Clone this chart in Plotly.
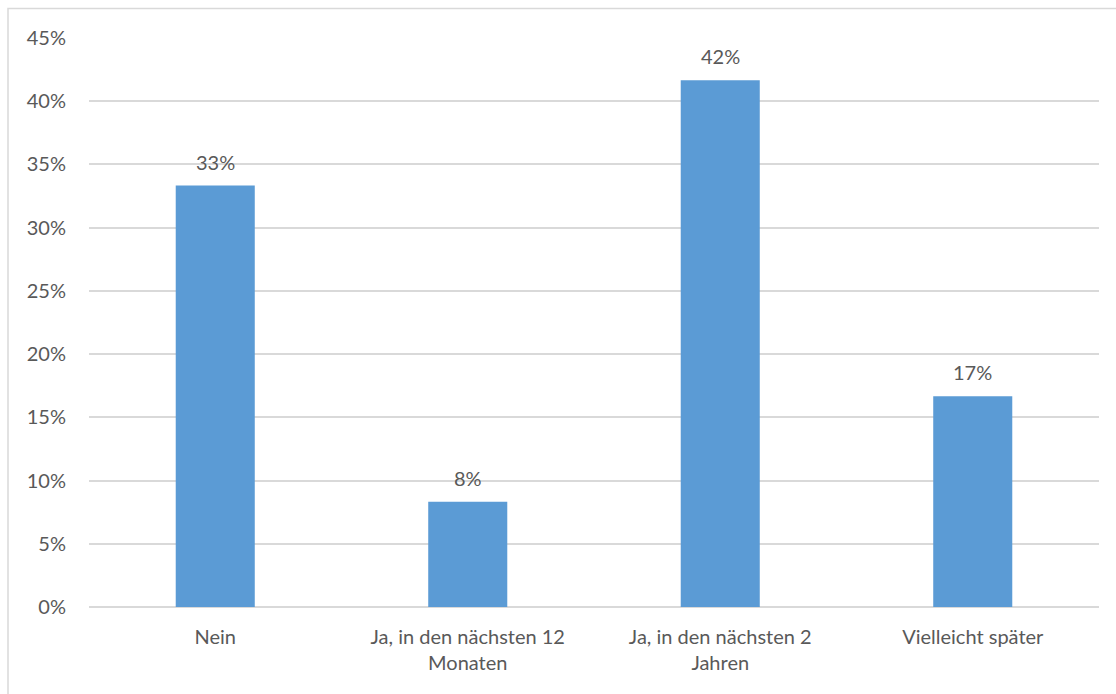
import plotly.graph_objects as go

categories = ["Nein", "Ja, in den nächsten 12<br>Monaten", "Ja, in den nächsten 2<br>Jahren", "Vielleicht später"]
shares = [4 / 12, 1 / 12, 5 / 12, 2 / 12]
y_ticks = [0, 0.05, 0.10, 0.15, 0.20, 0.25, 0.30, 0.35, 0.40, 0.45]
y_tick_labels = ["0%", "5%", "10%", "15%", "20%", "25%", "30%", "35%", "40%", "45%"]

FONT = "Lato, Open Sans, sans-serif"
FS = 20
TEXT = "#595959"
GRID = "#d9d9d9"

W, H = 1116, 694
M_L, M_R, M_T, M_B = 89, 17, 38, 87
plot_w = W - M_L - M_R
plot_h = H - M_T - M_B

fig = go.Figure(
    go.Bar(
        x=categories,
        y=shares,
        marker=dict(color="#5b9bd5", line=dict(width=0)),
        width=0.313,
        hoverinfo="skip",
    )
)

# value labels above each bar
for cat, v in zip(categories, shares):
    fig.add_annotation(
        x=cat, y=v, text=f"{round(v * 100):.0f}%", showarrow=False,
        yanchor="bottom", yshift=10,
        font=dict(family=FONT, size=FS, color=TEXT),
    )

# light chart frame
def px_x(p):
    return (p - M_L) / plot_w

def px_y(p):
    return (H - M_B - p) / plot_h

fig.add_shape(
    type="rect", xref="paper", yref="paper",
    x0=px_x(8), x1=px_x(1125), y0=px_y(705), y1=px_y(8.5),
    line=dict(color=GRID, width=1.5), fillcolor="rgba(0,0,0,0)", layer="below",
)

fig.update_layout(
    width=W, height=H,
    margin=dict(l=M_L, r=M_R, t=M_T, b=M_B),
    paper_bgcolor="white", plot_bgcolor="white",
    showlegend=False,
    font=dict(family=FONT, size=FS, color=TEXT),
    bargap=0.687,
    xaxis=dict(
        showgrid=False, showline=False, ticks="",
        tickfont=dict(family=FONT, size=FS, color=TEXT),
        ticklabelstandoff=16,
    ),
    yaxis=dict(
        range=[0, 0.45], tickvals=y_ticks, ticktext=y_tick_labels,
        showgrid=True, gridcolor=GRID, gridwidth=1.5,
        zeroline=True, zerolinecolor=GRID, zerolinewidth=1.5,
        showline=False, ticks="",
        tickfont=dict(family=FONT, size=FS, color=TEXT),
        ticklabelstandoff=22,
    ),
)

fig.write_html("out.html")
